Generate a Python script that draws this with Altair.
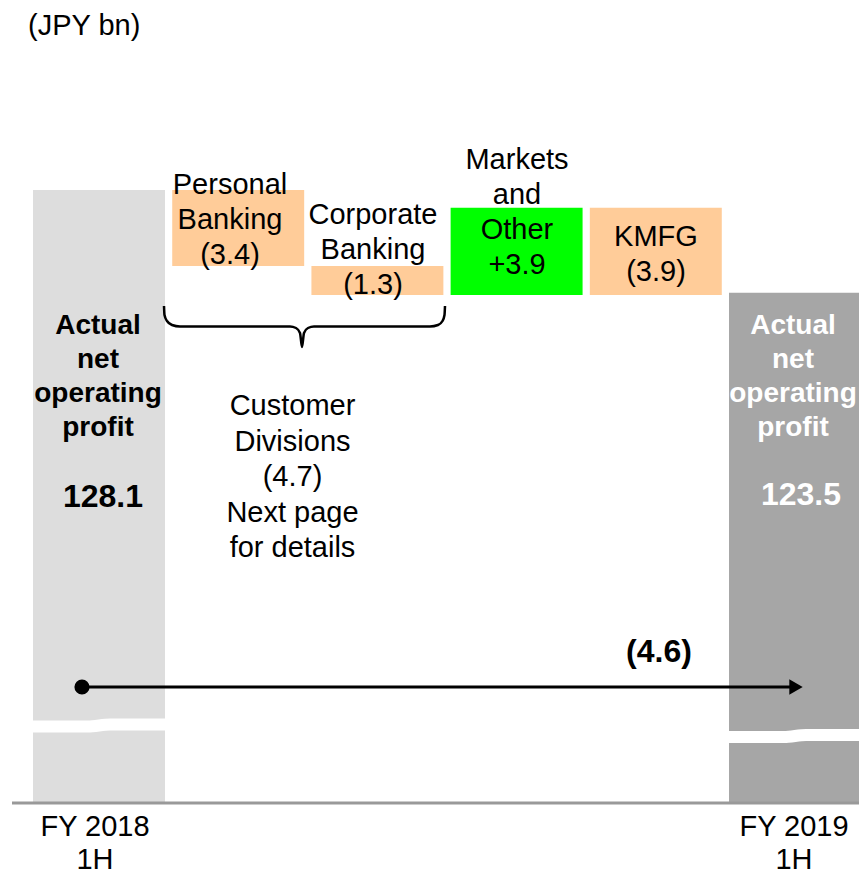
import altair as alt
import pandas as pd

# ---------------- data ----------------
categories = ["FY 2018 1H", "Personal Banking", "Corporate Banking",
              "Markets and Other", "KMFG", "FY 2019 1H"]
start_value = 128.1
end_value = 123.5
segment_changes = [-3.4, -1.3, 3.9, -3.9]
total_change_text = "(4.6)"
segment_texts = ["Personal\nBanking\n(3.4)", "Corporate\nBanking\n(1.3)",
                 "Markets\nand\nOther\n+3.9", "KMFG\n(3.9)"]
total_label = "Actual\nnet\noperating\nprofit"
total_values_text = ["128.1", "123.5"]
customer_text = "Customer\nDivisions\n(4.7)\nNext page\nfor details"
x_labels = ["FY 2018\n1H", "FY 2019\n1H"]
unit_text = "(JPY bn)"

# ---------------- layout ----------------
W, H = 851, 866
PX = 22.35        # pixels per JPY bn
BASE = 100.67     # value sitting on the (broken) baseline
BASE_Y = 795      # chart pixel row of the baseline
STEP = 139.2      # pixels between bar centres
X0 = 91           # chart pixel of first bar centre
HALF = 0.474      # half bar width in category units
FONT = "Liberation Sans"

y_dom = [BASE - (H - BASE_Y) / PX, BASE + BASE_Y / PX]
x_dom = [-X0 / STEP, (W - X0) / STEP]
xs = alt.Scale(domain=x_dom, nice=False, zero=False)
ys = alt.Scale(domain=y_dom, nice=False, zero=False)


def yv(py):
    """chart pixel row -> value"""
    return BASE + (BASE_Y - py) / PX


def xu(px):
    """chart pixel column -> category units"""
    return (px - X0) / STEP


# bars
rows = [dict(cat=categories[0], x=-HALF, x2=HALF, y=BASE, y2=start_value, color="#DDDDDD")]
run = start_value
for i, d in enumerate(segment_changes, start=1):
    rows.append(dict(cat=categories[i], x=i - HALF, x2=i + HALF, y=run, y2=run + d,
                     color="#FFCC99" if d < 0 else "#00FF00"))
    run += d
rows.append(dict(cat=categories[5], x=5 - HALF, x2=5 + HALF, y=BASE, y2=end_value, color="#A6A6A6"))
bars_df = pd.DataFrame(rows)

bars = alt.Chart(bars_df).mark_rect().encode(
    x=alt.X("x:Q", scale=xs, axis=None), x2="x2:Q",
    y=alt.Y("y:Q", scale=ys, axis=None), y2="y2:Q",
    color=alt.Color("color:N", scale=None),
)

# axis-break marks (white wavy bands)
brk = []
for b, (i, yl, yr) in enumerate([(0, 718.5, 716.5), (5, 729, 727)]):
    pts = [(i - HALF - 0.03, yl), (i - 0.08, yl), (i + 0.08, yr), (i + HALF + 0.03, yr)]
    for k, (xx, py) in enumerate(pts):
        brk.append(dict(b=b, k=k, x=xx, y=yv(py)))
breaks = alt.Chart(pd.DataFrame(brk)).mark_line(
    color="white", strokeWidth=12, interpolate="monotone").encode(
    x=alt.X("x:Q", scale=xs, axis=None), y=alt.Y("y:Q", scale=ys, axis=None),
    detail="b:N", order="k:Q")

# baseline
base_rule = alt.Chart(pd.DataFrame({"y": [BASE]})).mark_rule(
    color="#999999", strokeWidth=3).encode(
    y=alt.Y("y:Q", scale=ys, axis=None), x=alt.value(4), x2=alt.value(W))

# brace under customer divisions
brace_pts = [(156, 298), (156.5, 307), (159, 313), (164, 317), (172, 318.5),
             (282, 318.5), (288, 320), (292, 325), (294, 339),
             (296, 325), (300, 320), (306, 318.5), (422, 318.5), (430, 317),
             (434.5, 313), (436.5, 307), (437, 298)]
brace_df = pd.DataFrame([dict(k=k, x=xu(px), y=yv(py)) for k, (px, py) in enumerate(brace_pts)])
brace = alt.Chart(brace_df).mark_line(color="black", strokeWidth=2.5, interpolate="monotone").encode(
    x=alt.X("x:Q", scale=xs, axis=None), y=alt.Y("y:Q", scale=ys, axis=None), order="k:Q")

# arrow for total change
ARROW_Y = yv(679)
arrow_df = pd.DataFrame({"x": [xu(74)], "x2": [xu(784)], "y": [ARROW_Y]})
arrow_line = alt.Chart(arrow_df).mark_rule(color="black", strokeWidth=3).encode(
    x=alt.X("x:Q", scale=xs, axis=None), x2="x2:Q", y=alt.Y("y:Q", scale=ys, axis=None))
dot = alt.Chart(pd.DataFrame({"x": [xu(74)], "y": [ARROW_Y]})).mark_point(
    shape="circle", filled=True, color="black", size=230, opacity=1).encode(
    x=alt.X("x:Q", scale=xs, axis=None), y=alt.Y("y:Q", scale=ys, axis=None))
head = alt.Chart(pd.DataFrame({"x": [xu(788)], "y": [ARROW_Y]})).mark_point(
    shape="triangle-right", filled=True, color="black", size=240, opacity=1).encode(
    x=alt.X("x:Q", scale=xs, axis=None), y=alt.Y("y:Q", scale=ys, axis=None))


def text_layer(items, **props):
    df = pd.DataFrame(items)
    return alt.Chart(df).mark_text(lineBreak="\n", font=FONT, **props).encode(
        x=alt.X("x:Q", scale=xs, axis=None), y=alt.Y("y:Q", scale=ys, axis=None), text="t:N")


# (x, y of first line centre) in chart pixels
seg_pos = [(222, 177), (365, 207), (509, 151.5), (648, 229)]
seg_text = text_layer(
    [dict(x=xu(px), y=yv(py), t=t) for (px, py), t in zip(seg_pos, segment_texts)],
    fontSize=29, lineHeight=35, align="center", baseline="middle", color="black")
cust_text = text_layer([dict(x=xu(284.5), y=yv(398), t=customer_text)],
                       fontSize=29, lineHeight=35.5, align="center", baseline="middle", color="black")

left_lbl = text_layer([dict(x=xu(90), y=yv(318), t=total_label)],
                      fontSize=28, fontWeight="bold", lineHeight=34, align="center",
                      baseline="middle", color="black")
left_val = text_layer([dict(x=xu(95), y=yv(489), t=total_values_text[0])],
                      fontSize=32, fontWeight="bold", align="center", baseline="middle", color="black")
right_lbl = text_layer([dict(x=xu(785), y=yv(318), t=total_label)],
                       fontSize=28, fontWeight="bold", lineHeight=34, align="center",
                       baseline="middle", color="white")
right_val = text_layer([dict(x=xu(793), y=yv(487), t=total_values_text[1])],
                       fontSize=32, fontWeight="bold", align="center", baseline="middle", color="white")
chg = text_layer([dict(x=xu(651), y=yv(644), t=total_change_text)],
                 fontSize=32, fontWeight="bold", align="center", baseline="middle", color="black")
unit = text_layer([dict(x=xu(20), y=yv(18), t=unit_text)],
                  fontSize=29, align="left", baseline="middle", color="black")
xlab = text_layer([dict(x=xu(87), y=yv(819), t=x_labels[0]),
                   dict(x=xu(786), y=yv(819), t=x_labels[1])],
                  fontSize=29, lineHeight=33, align="center", baseline="middle", color="black")

chart = alt.layer(
    bars, breaks, base_rule, brace, arrow_line, dot, head,
    seg_text, cust_text, left_lbl, left_val, right_lbl, right_val, chg, unit, xlab,
).properties(
    width=W, height=H, padding=0, autosize=alt.AutoSizeParams(type="none")
).configure_view(stroke=None)

chart.save("out.html", embed_options={"renderer": "svg", "actions": False})
